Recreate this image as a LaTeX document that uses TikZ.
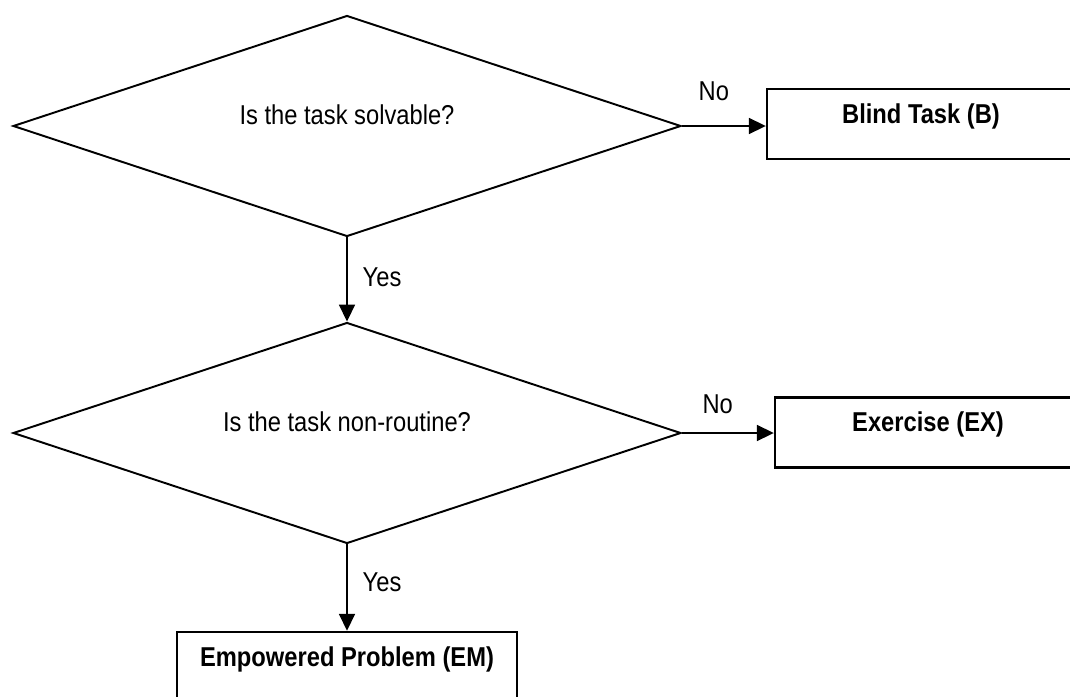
\documentclass[tikz,border=0pt]{standalone}
\usepackage{fontspec}
\setmainfont{Liberation Sans}
\usepackage{xcolor}
\definecolor{cMain}{HTML}{000000}
\usetikzlibrary{positioning,arrows.meta,shapes.geometric}
\newcommand{\tall}[1]{\scalebox{1}[1.15]{#1}}
\tikzset{
  node-decision/.style={draw=cMain,line width=1.1pt,diamond,aspect=3,inner sep=0pt,
    minimum width=13.36cm,minimum height=4.42cm,align=center,
    text height=9pt,text depth=11pt,font=\fontsize{13.5}{16}\selectfont},
  node-result/.style={draw=cMain,line width=1.4pt,minimum height=1.4cm,
    align=center,text height=10pt,text depth=11pt,
    font=\fontsize{13.5}{16}\selectfont\bfseries},
  arrow/.style={-{Triangle[length=3.4mm,width=3.2mm]},line width=1pt,draw=cMain},
  edge-label/.style={font=\fontsize{13.5}{16}\selectfont,text=cMain},
}

\begin{document}
\begin{tikzpicture}[x=0.02cm,y=-0.02cm]
  \useasboundingbox (0,0) rectangle (1070,696);
  % decisions
  \node[node-decision] (solvable) at (347,126) {\tall{Is the task solvable?}};
  \node[node-decision] (routine)  at (347,433) {\tall{Is the task non-routine?}};
  % outcomes
  \node[node-result,minimum width=6.16cm] (blind)     at (921,124)   {\tall{Blind Task (B)}};
  \node[node-result,minimum width=6.12cm] (exercise)  at (928,432.5) {\tall{Exercise (EX)}};
  \node[node-result,minimum width=6.8cm]  (empowered) at (347,667)   {\tall{Empowered Problem (EM)}};

  \draw[arrow] (solvable.east) -- (solvable.east -| blind.west)
    node[edge-label,pos=0.38,yshift=0.7cm] {\tall{No}};
  \draw[arrow] (routine.east) -- (routine.east -| exercise.west)
    node[edge-label,pos=0.39,yshift=0.57cm] {\tall{No}};
  \draw[arrow] (solvable.south) -- (routine.north)
    node[edge-label,pos=0.47,xshift=0.7cm] {\tall{Yes}};
  \draw[arrow] (routine.south) -- (empowered.north)
    node[edge-label,pos=0.44,xshift=0.7cm] {\tall{Yes}};
\end{tikzpicture}
\end{document}
